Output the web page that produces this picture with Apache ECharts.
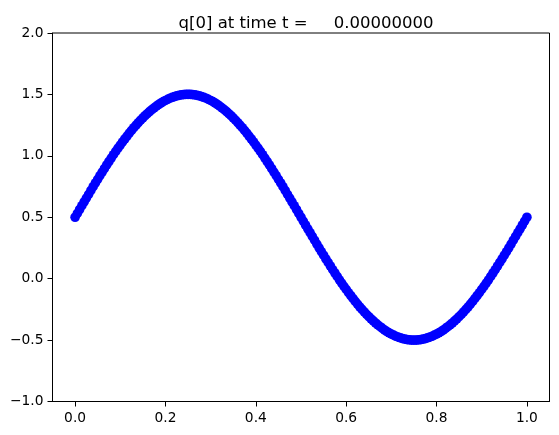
<!DOCTYPE html>
<html>
<head>
<meta charset="utf-8">
<script src="https://cdn.jsdelivr.net/npm/echarts@6/dist/echarts.min.js"></script>
<style>html,body{margin:0;padding:0;background:#fff}#c{width:559px;height:435px}</style>
</head>
<body>
<div id="c"></div>
<script>
var titleText = 'q[0] at time t =     0.00000000';
var xTicks = [0.0, 0.2, 0.4, 0.6, 0.8, 1.0];
var yTicks = [-1.0, -0.5, 0.0, 0.5, 1.0, 1.5, 2.0];
var xValues = [
0,0.005,0.01,0.015,0.02,0.025,0.03,0.035,0.04,0.045,0.05,0.055,0.06,0.065,0.07,0.075,0.08,0.085,0.09,0.095,
0.1,0.105,0.11,0.115,0.12,0.125,0.13,0.135,0.14,0.145,0.15,0.155,0.16,0.165,0.17,0.175,0.18,0.185,0.19,0.195,
0.2,0.205,0.21,0.215,0.22,0.225,0.23,0.235,0.24,0.245,0.25,0.255,0.26,0.265,0.27,0.275,0.28,0.285,0.29,0.295,
0.3,0.305,0.31,0.315,0.32,0.325,0.33,0.335,0.34,0.345,0.35,0.355,0.36,0.365,0.37,0.375,0.38,0.385,0.39,0.395,
0.4,0.405,0.41,0.415,0.42,0.425,0.43,0.435,0.44,0.445,0.45,0.455,0.46,0.465,0.47,0.475,0.48,0.485,0.49,0.495,
0.5,0.505,0.51,0.515,0.52,0.525,0.53,0.535,0.54,0.545,0.55,0.555,0.56,0.565,0.57,0.575,0.58,0.585,0.59,0.595,
0.6,0.605,0.61,0.615,0.62,0.625,0.63,0.635,0.64,0.645,0.65,0.655,0.66,0.665,0.67,0.675,0.68,0.685,0.69,0.695,
0.7,0.705,0.71,0.715,0.72,0.725,0.73,0.735,0.74,0.745,0.75,0.755,0.76,0.765,0.77,0.775,0.78,0.785,0.79,0.795,
0.8,0.805,0.81,0.815,0.82,0.825,0.83,0.835,0.84,0.845,0.85,0.855,0.86,0.865,0.87,0.875,0.88,0.885,0.89,0.895,
0.9,0.905,0.91,0.915,0.92,0.925,0.93,0.935,0.94,0.945,0.95,0.955,0.96,0.965,0.97,0.975,0.98,0.985,0.99,0.995,
1.0
];
var qValues = [
0.500,0.531,0.563,0.594,0.625,0.656,0.687,0.718,0.749,0.779,
0.809,0.839,0.868,0.897,0.926,0.954,0.982,1.009,1.036,1.062,
1.088,1.113,1.137,1.161,1.185,1.207,1.229,1.250,1.271,1.290,
1.309,1.327,1.344,1.361,1.376,1.391,1.405,1.418,1.430,1.441,
1.451,1.460,1.469,1.476,1.482,1.488,1.492,1.496,1.498,1.500,
1.500,
1.500,1.498,1.496,1.492,1.488,1.482,1.476,1.469,1.460,1.451,
1.441,1.430,1.418,1.405,1.391,1.376,1.361,1.344,1.327,1.309,
1.290,1.271,1.250,1.229,1.207,1.185,1.161,1.137,1.113,1.088,
1.062,1.036,1.009,0.982,0.954,0.926,0.897,0.868,0.839,0.809,
0.779,0.749,0.718,0.687,0.656,0.625,0.594,0.563,0.531,0.500,
0.469,0.437,0.406,0.375,0.344,0.313,0.282,0.251,0.221,0.191,
0.161,0.132,0.103,0.074,0.046,0.018,-0.009,-0.036,-0.062,-0.088,
-0.113,-0.137,-0.161,-0.185,-0.207,-0.229,-0.250,-0.271,-0.290,-0.309,
-0.327,-0.344,-0.361,-0.376,-0.391,-0.405,-0.418,-0.430,-0.441,-0.451,
-0.460,-0.469,-0.476,-0.482,-0.488,-0.492,-0.496,-0.498,-0.500,-0.500,
-0.500,-0.498,-0.496,-0.492,-0.488,-0.482,-0.476,-0.469,-0.460,-0.451,
-0.441,-0.430,-0.418,-0.405,-0.391,-0.376,-0.361,-0.344,-0.327,-0.309,
-0.290,-0.271,-0.250,-0.229,-0.207,-0.185,-0.161,-0.137,-0.113,-0.088,
-0.062,-0.036,-0.009,0.018,0.046,0.074,0.103,0.132,0.161,0.191,
0.221,0.251,0.282,0.313,0.344,0.375,0.406,0.437,0.469,0.500
];

var pts = xValues.map(function (x, i) { return [x, qValues[i]]; });
var fontFam = 'DejaVu Sans';
function fmt(v) { return v.toFixed(1).replace('-', '\u2212'); }

var chart = echarts.init(document.getElementById('c'), null, {renderer: 'canvas'});
chart.setOption({
  animation: false,
  backgroundColor: '#ffffff',
  title: {
    text: titleText,
    left: 301, textAlign: 'center', top: 10.5,
    textStyle: {fontFamily: fontFam, fontSize: 16.5, fontWeight: 'normal', color: '#000'}
  },
  grid: {left: 52.5, right: 9.5, top: 33, bottom: 33.5, show: true, borderColor: '#000', borderWidth: 1, backgroundColor: 'transparent'},
  xAxis: {
    type: 'value', min: -0.05, max: 1.05,
    axisLine: {show: true, onZero: false, lineStyle: {color: '#000', width: 1}},
    axisTick: {show: true, length: 5, customValues: xTicks, lineStyle: {color: '#000'}},
    axisLabel: {customValues: xTicks, formatter: fmt, fontFamily: fontFam, fontSize: 13.8, color: '#000', margin: 10},
    splitLine: {show: false}
  },
  yAxis: {
    type: 'value', min: -1, max: 2, interval: 0.5,
    axisLine: {show: true, onZero: false, lineStyle: {color: '#000', width: 1}},
    axisTick: {show: true, length: 5, customValues: yTicks, lineStyle: {color: '#000'}},
    axisLabel: {customValues: yTicks, formatter: fmt, fontFamily: fontFam, fontSize: 13.8, color: '#000', margin: 9},
    splitLine: {show: false}
  },
  series: [{
    type: 'scatter',
    data: pts,
    symbol: 'circle',
    symbolSize: 9.6,
    itemStyle: {color: '#0000ff', opacity: 1},
    emphasis: {disabled: true}
  }]
});
</script>
</body>
</html>
